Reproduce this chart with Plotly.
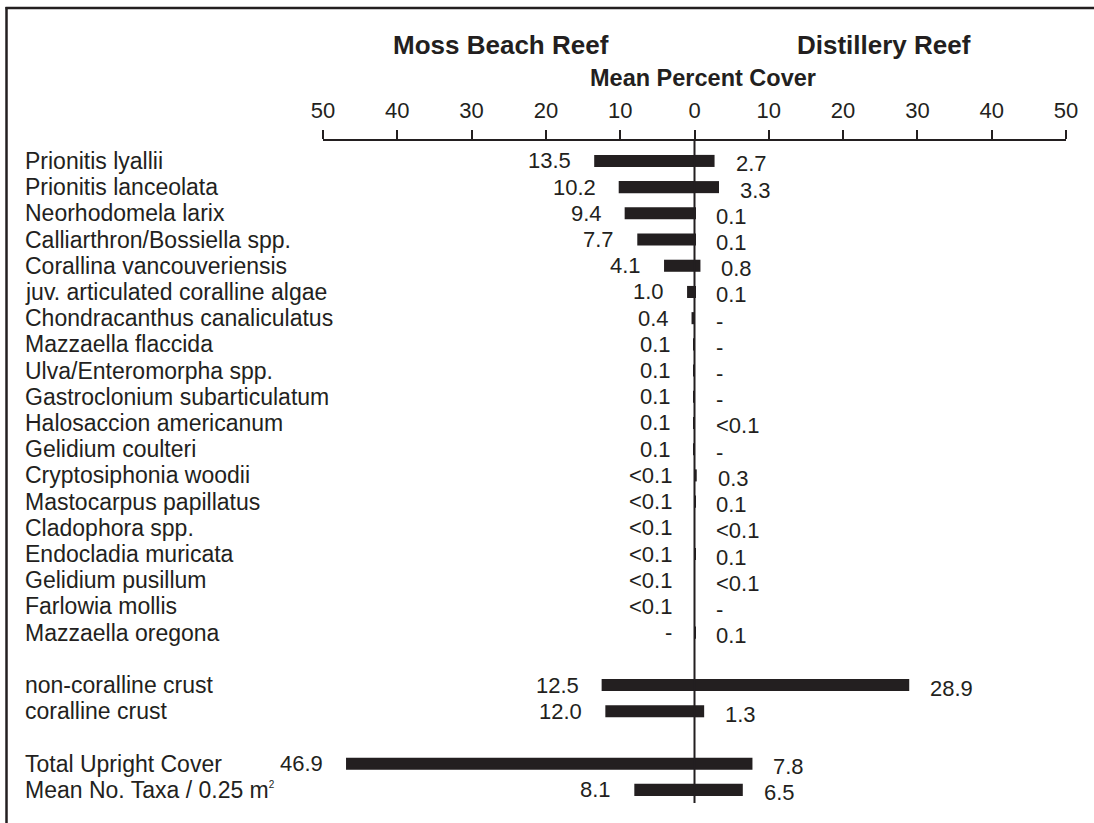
import plotly.graph_objects as go

# ---------------- data ----------------
taxa = [
    "Prionitis lyallii", "Prionitis lanceolata", "Neorhodomela larix",
    "Calliarthron/Bossiella spp.", "Corallina vancouveriensis",
    "juv. articulated coralline algae", "Chondracanthus canaliculatus",
    "Mazzaella flaccida", "Ulva/Enteromorpha spp.", "Gastroclonium subarticulatum",
    "Halosaccion americanum", "Gelidium coulteri", "Cryptosiphonia woodii",
    "Mastocarpus papillatus", "Cladophora spp.", "Endocladia muricata",
    "Gelidium pusillum", "Farlowia mollis", "Mazzaella oregona",
    "non-coralline crust", "coralline crust",
    "Total Upright Cover",
    "Mean No. Taxa / 0.25 m<sup><span style='font-size:10px'>2</span></sup>",
]
row_index = list(range(19)) + [20, 21, 23, 24]

moss_beach = ["13.5", "10.2", "9.4", "7.7", "4.1", "1.0", "0.4", "0.1", "0.1", "0.1",
              "0.1", "0.1", "<0.1", "<0.1", "<0.1", "<0.1", "<0.1", "<0.1", "-",
              "12.5", "12.0", "46.9", "8.1"]
distillery = ["2.7", "3.3", "0.1", "0.1", "0.8", "0.1", "-", "-", "-", "-",
              "<0.1", "-", "0.3", "0.1", "<0.1", "0.1", "<0.1", "-", "0.1",
              "28.9", "1.3", "7.8", "6.5"]

tick_values = [-50, -40, -30, -20, -10, 0, 10, 20, 30, 40, 50]
tick_labels = ["50", "40", "30", "20", "10", "0", "10", "20", "30", "40", "50"]


def to_num(s):
    try:
        return float(s)
    except ValueError:
        return 0.0


def esc(s):
    return s.replace("<0", "&lt;0")


moss_vals = [to_num(s) for s in moss_beach]
dist_vals = [to_num(s) for s in distillery]

# ---------------- layout helpers ----------------
W, H = 1094, 823
ML, MR, MT, MB = 323, 28, 141, 20
PW, PH = W - ML - MR, H - MT - MB


def px_x(px):
    return (px - ML) / PW


def px_y(py):
    return (H - MB - py) / PH


INK = "#231f20"
FONT = "Arial, Liberation Sans, sans-serif"

fig = go.Figure()
fig.add_trace(go.Bar(y=row_index, x=[-v for v in moss_vals], orientation="h",
                     width=0.46, marker=dict(color=INK, line=dict(width=0)),
                     name="Moss Beach Reef", hoverinfo="skip"))
fig.add_trace(go.Bar(y=row_index, x=dist_vals, orientation="h",
                     width=0.46, marker=dict(color=INK, line=dict(width=0)),
                     name="Distillery Reef", hoverinfo="skip"))

annotations = []
for name, r, ml, mv, dl, dv in zip(taxa, row_index, moss_beach, moss_vals,
                                   distillery, dist_vals):
    annotations.append(dict(x=px_x(23), xref="paper", y=r, yref="y", text=name,
                            xanchor="left", yanchor="middle", showarrow=False,
                            font=dict(size=23, color=INK, family=FONT)))
    annotations.append(dict(x=-mv, xref="x", y=r, yref="y", text=esc(ml),
                            xanchor="right", yanchor="middle", showarrow=False,
                            xshift=-21, yshift=0,
                            font=dict(size=22, color=INK, family=FONT)))
    annotations.append(dict(x=dv, xref="x", y=r, yref="y", text=esc(dl),
                            xanchor="left", yanchor="middle", showarrow=False,
                            xshift=19, yshift=-3,
                            font=dict(size=22, color=INK, family=FONT)))

annotations += [
    dict(x=px_x(501), y=px_y(45), xref="paper", yref="paper", text="<b>Moss Beach Reef</b>",
         showarrow=False, xanchor="center", yanchor="middle",
         font=dict(size=26, color=INK, family=FONT)),
    dict(x=px_x(884), y=px_y(45), xref="paper", yref="paper", text="<b>Distillery Reef</b>",
         showarrow=False, xanchor="center", yanchor="middle",
         font=dict(size=26, color=INK, family=FONT)),
    dict(x=px_x(703), y=px_y(78), xref="paper", yref="paper", text="<b>Mean Percent Cover</b>",
         showarrow=False, xanchor="center", yanchor="middle",
         font=dict(size=23.5, color=INK, family=FONT)),
]

shapes = [
    # frame: top and left edges
    dict(type="line", xref="paper", yref="paper", x0=px_x(5.5), x1=px_x(1094),
         y0=px_y(8), y1=px_y(8), layer="above", line=dict(color=INK, width=2.5)),
    dict(type="line", xref="paper", yref="paper", x0=px_x(6.5), x1=px_x(6.5),
         y0=px_y(7), y1=px_y(823), layer="above", line=dict(color=INK, width=2.5)),
    # zero line drawn above the bars
    dict(type="line", xref="x", yref="paper", x0=0, x1=0, y0=0, y1=1,
         layer="above", line=dict(color=INK, width=2)),
]

fig.update_layout(
    width=W, height=H,
    margin=dict(l=ML, r=MR, t=MT, b=MB),
    paper_bgcolor="white", plot_bgcolor="white",
    showlegend=False, barmode="overlay",
    annotations=annotations, shapes=shapes,
    xaxis=dict(range=[-50, 50], side="top", tickvals=tick_values, ticktext=tick_labels,
               ticks="outside", ticklen=9, tickwidth=2, tickcolor=INK,
               showline=True, linewidth=2, linecolor=INK, showgrid=False,
               zeroline=False,
               tickfont=dict(size=22, color=INK, family=FONT),
               ticklabelstandoff=3, fixedrange=True),
    yaxis=dict(range=[24.5, -0.76], visible=False, fixedrange=True),
)

fig.write_html("out.html", config={"displayModeBar": False},
               post_script="document.body.style.margin='0';")
